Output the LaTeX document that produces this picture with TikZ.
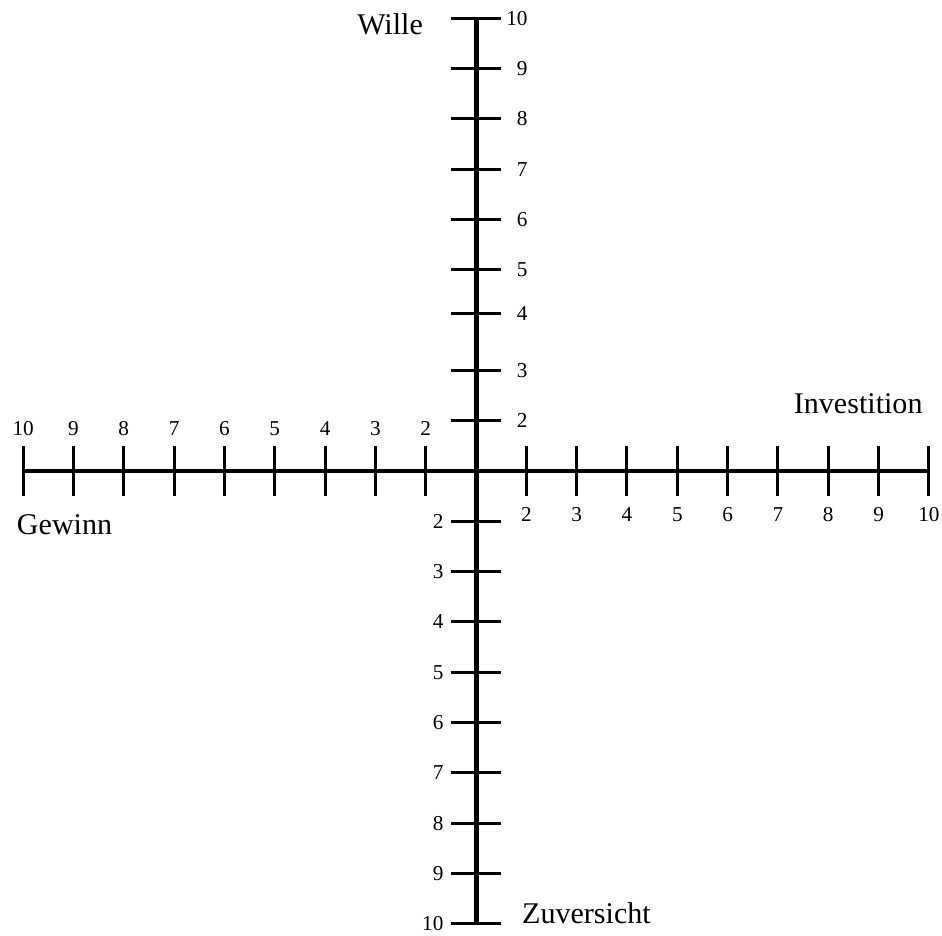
\documentclass[tikz,border=0pt]{standalone}
\usepackage{fontspec}
\setmainfont{Liberation Serif}
\usepackage{tikz}

\begin{document}
\begin{tikzpicture}[x=1cm, y=1cm,
            % Global font for the scale numbers
            font=\fontsize{12}{14}\selectfont,
            % Styles for the cross of axes
            axis/.style={line width=2.8pt, black},
            tickmark/.style={line width=1.7pt, black},
            ticklabel/.style={inner sep=0pt},
            axislabel/.style={inner sep=0pt, font=\fontsize{17}{20}\selectfont}
        ]

        \useasboundingbox (-9.46,-9.24) rectangle (9.26,9.36);

        \coordinate (west) at (-9.03,0);
        \coordinate (east) at (9.03,0);
        \coordinate (north) at (0,9);
        \coordinate (south) at (0,-8.97);

        \draw[axis] (west) -- (east);
        \draw[axis] (south) -- (north);

        % Upper half of the vertical axis
        \foreach \n/\p in {2/1, 3/2, 4/3.12, 5/4, 6/5, 7/6, 8/7, 9/8, 10/9} {
            \draw[tickmark] (-0.5,\p) -- (0.5,\p);
            \node[ticklabel, anchor=east] (up\n) at (1.03,\p) {\n};
        }
        % Lower half of the vertical axis
        \foreach \n in {2,...,10} {
            \draw[tickmark] (-0.5,{1-\n}) -- (0.5,{1-\n});
            \node[ticklabel, anchor=east] (down\n) at (-0.64,{1-\n}) {\n};
        }
        % Left half of the horizontal axis
        \foreach \n in {2,...,10} {
            \draw[tickmark] ({1-\n},-0.5) -- ({1-\n},0.5);
            \node[ticklabel, anchor=base] (left\n) at ({1-\n},0.70) {\n};
        }
        % Right half of the horizontal axis
        \foreach \n in {2,...,10} {
            \draw[tickmark] ({\n-1},-0.5) -- ({\n-1},0.5);
            \node[ticklabel, anchor=base] (right\n) at ({\n-1},-1.0) {\n};
        }

        \node[axislabel, anchor=base east] (wille) at (-1.05,8.67) {Wille};
        \node[axislabel, anchor=base east] (investition) at (8.88,1.15) {Investition};
        \node[axislabel, anchor=base west] (gewinn) at (-9.13,-1.27) {Gewinn};
        \node[axislabel, anchor=base west] (zuversicht) at (0.91,-8.99) {Zuversicht};

\end{tikzpicture}
\end{document}
